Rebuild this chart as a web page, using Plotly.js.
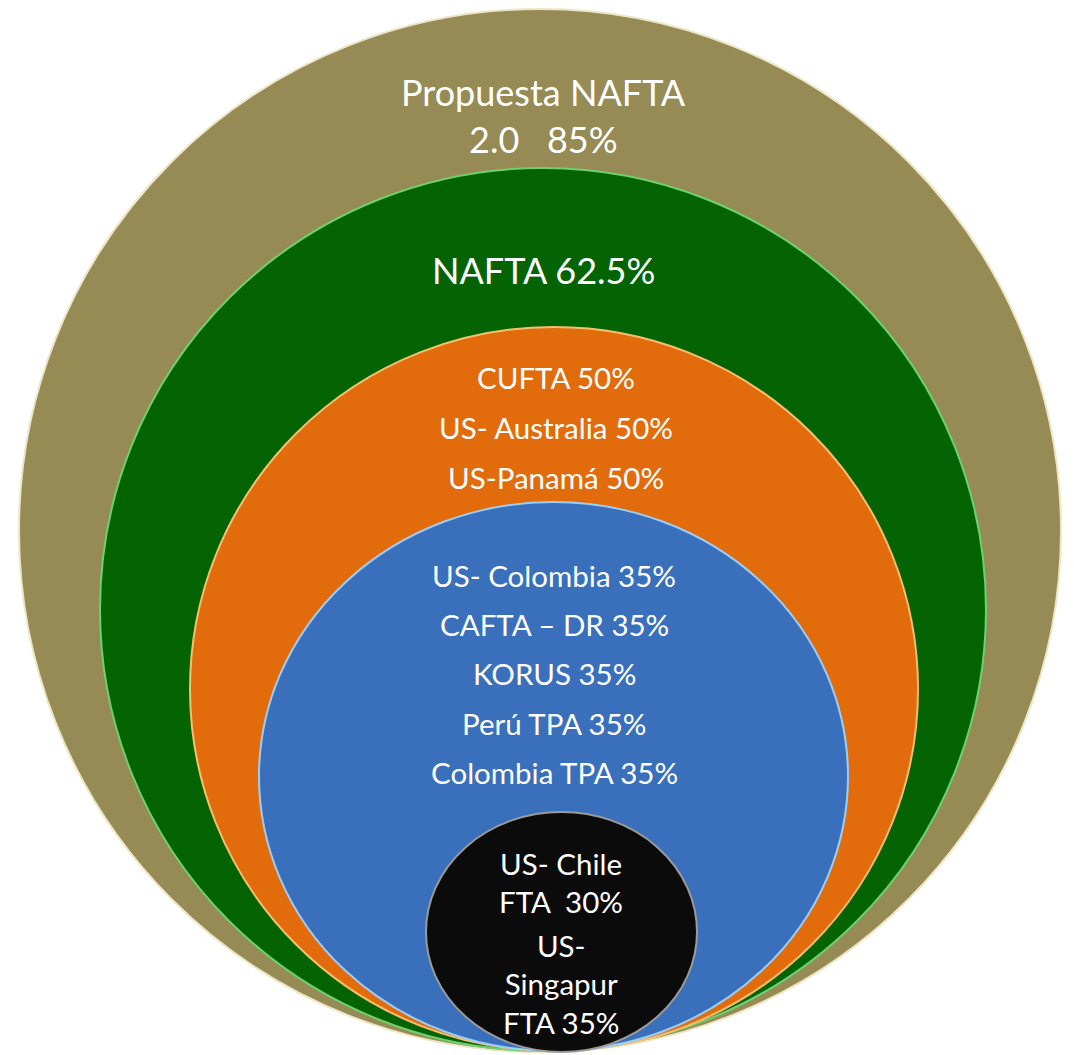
<!DOCTYPE html>
<html>
<head>
<meta charset="utf-8">
<script src="https://cdn.plot.ly/plotly-3.0.1.min.js"></script>
<style>html,body{margin:0;padding:0;background:#fff;}#chart{width:1074px;height:1055px;}</style>
</head>
<body>
<div id="chart"></div>
<script>
// ---- data: nested rings of Regional Value Content (RVC) requirements ----
const ringNames = ['Propuesta NAFTA 2.0', 'NAFTA', 'RVC 50%', 'RVC 35%', 'RVC 30-35%'];
const ringLabels = [
  ['Propuesta NAFTA', '2.0&nbsp;&nbsp; 85%'],
  ['NAFTA 62.5%'],
  ['CUFTA 50%', 'US- Australia 50%', 'US-Panamá 50%'],
  ['US- Colombia 35%', 'CAFTA – DR 35%', 'KORUS 35%', 'Perú TPA 35%', 'Colombia TPA 35%'],
  ['US- Chile<br>FTA&nbsp; 30%', 'US-<br>Singapur<br>FTA 35%']
];

// ---- geometry & style (pixel-based layout) ----
const ringBox = [
  [19, 9, 1061, 1052],
  [100, 168, 986, 1051],
  [190, 327, 918, 1051],
  [259, 502, 848, 1051],
  [426, 812, 697, 1052]
];
const ringFill = ['#968a55', '#046404', '#e26c0b', '#3a70bb', '#0b0b0b'];
const ringRim  = ['#ece6c4', '#6fd06f', '#f7c070', '#9ccdf7', '#9a9a9a'];
const labelX = [543, 543, 556, 554, 561];
const labelY = [
  [92, 139],
  [270],
  [377, 427, 477],
  [575, 624, 673, 723, 772],
  [882, 984]
];
const labelSize = [36, 36, 29.5, 29.5, 29.5];

const shapes = ringBox.map((b, i) => ({
  type: 'circle', xref: 'x', yref: 'y',
  x0: b[0], y0: b[1], x1: b[2], y1: b[3],
  fillcolor: ringFill[i],
  line: {color: ringRim[i], width: 2},
  layer: 'below'
}));

const annotations = [];
ringLabels.forEach((lines, i) => {
  lines.forEach((t, j) => {
    annotations.push({
      x: labelX[i], y: labelY[i][j], xref: 'x', yref: 'y',
      text: t, showarrow: false, xanchor: 'center', yanchor: 'middle', align: 'center',
      font: {family: 'Lato, "Liberation Sans", sans-serif', size: labelSize[i], color: '#ffffff'}
    });
  });
});

const layout = {
  width: 1074, height: 1055,
  margin: {l: 0, r: 0, t: 0, b: 0, pad: 0},
  paper_bgcolor: '#ffffff', plot_bgcolor: '#ffffff',
  showlegend: false,
  xaxis: {range: [0, 1074], visible: false, fixedrange: true},
  yaxis: {range: [1055, 0], visible: false, fixedrange: true},
  shapes: shapes,
  annotations: annotations
};

Plotly.newPlot('chart', [{x: [], y: [], type: 'scatter', name: ringNames[0]}], layout, {displayModeBar: false, staticPlot: true});
</script>
</body>
</html>
